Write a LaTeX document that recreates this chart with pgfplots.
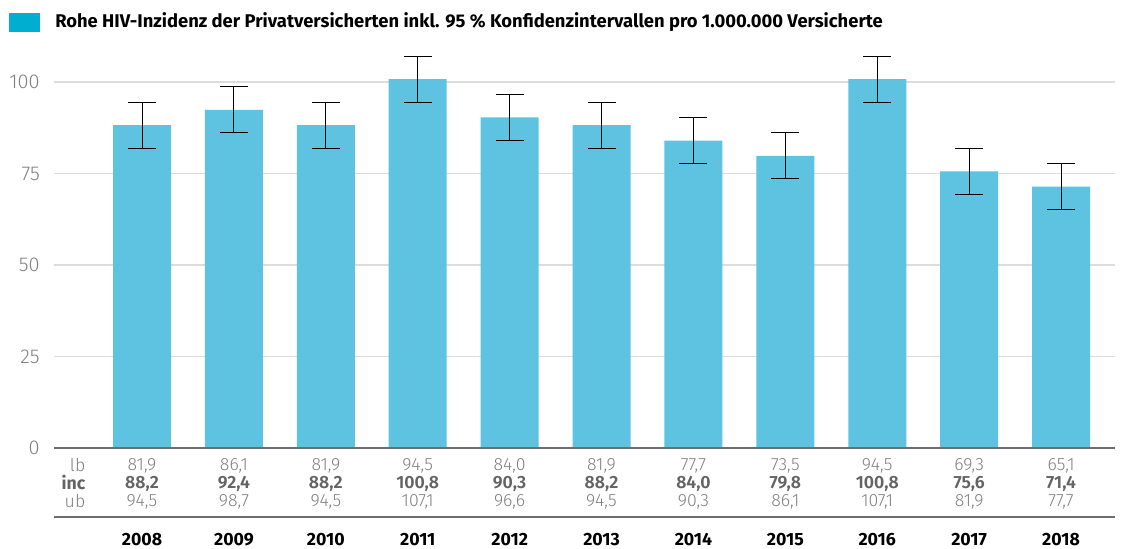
\documentclass[border=0pt]{standalone}
\usepackage{fontspec}
\setmainfont{Fira Sans}
\newfontfamily\lightfont{Fira Sans Light}
\usepackage{pgfplots}
\usepackage{pgfplotstable}
\pgfplotsset{compat=1.18}
\definecolor{barc}{RGB}{94,195,224}
\definecolor{legc}{RGB}{0,174,208}
\definecolor{tgray}{RGB}{128,128,128}
\definecolor{igray}{RGB}{100,100,100}
\definecolor{gridc}{RGB}{220,220,220}
\definecolor{zeroc}{RGB}{110,110,110}
\pgfplotstableread{
x lb inc ub
0 81.9 88.2 94.5
1 86.1 92.4 98.7
2 81.9 88.2 94.5
3 94.5 100.8 107.1
4 84.0 90.3 96.6
5 81.9 88.2 94.5
6 77.7 84.0 90.3
7 73.5 79.8 86.1
8 94.5 100.8 107.1
9 69.3 75.6 81.9
10 65.1 71.4 77.7
}\datatable
\begin{document}
\begin{tikzpicture}
\path[use as bounding box] (0,0) rectangle (846.75pt,411.75pt);
\fill[legc] (6.75pt,387.75pt) rectangle (30pt,402pt);
\node[anchor=west, font=\bfseries\fontsize{13.8}{16}\selectfont, inner sep=0pt] at (41.25pt,395.25pt)
  {Rohe HIV-Inzidenz der Privatversicherten inkl. 95 \% Konfidenzintervallen pro 1.000.000 Versicherte};
\begin{axis}[
  at={(40.5pt,75.75pt)}, anchor=south west,
  scale only axis, width=795.75pt, height=301.95pt,
  xmin=-0.958, xmax=10.587, ymin=0, ymax=110,
  axis line style={draw=none},
  major tick length=0pt,
  ymajorgrids, grid style={gridc, line width=0.8pt},
  ytick={0,25,50,75,100},
  yticklabel style={anchor=east, inner sep=0pt, xshift=-10.5pt, text=tgray, font=\lightfont\fontsize{15}{17}\selectfont},
  /pgf/number format/assume math mode=true,
  xtick={0,...,10},
  xticklabels={
    {81,9\\\textbf{\color{igray}88,2}\\94,5},
    {86,1\\\textbf{\color{igray}92,4}\\98,7},
    {81,9\\\textbf{\color{igray}88,2}\\94,5},
    {94,5\\\textbf{\color{igray}100,8}\\107,1},
    {84,0\\\textbf{\color{igray}90,3}\\96,6},
    {81,9\\\textbf{\color{igray}88,2}\\94,5},
    {77,7\\\textbf{\color{igray}84,0}\\90,3},
    {73,5\\\textbf{\color{igray}79,8}\\86,1},
    {94,5\\\textbf{\color{igray}100,8}\\107,1},
    {69,3\\\textbf{\color{igray}75,6}\\81,9},
    {65,1\\\textbf{\color{igray}71,4}\\77,7}},
  xticklabel style={align=center, text=tgray, font=\lightfont\fontsize{13.3}{13.5}\selectfont, yshift=-4.5pt},
  clip=false,
]
\addplot[ybar, bar width=43.5pt, fill=barc, draw=none,
  error bars/.cd, y dir=both, y explicit,
  error bar style={line width=0.75pt, black},
  error mark options={rotate=90, mark size=10.5pt, line width=0.75pt, black}]
  table[x=x, y=inc, y error plus expr=\thisrow{ub}-\thisrow{inc}, y error minus expr=\thisrow{inc}-\thisrow{lb}] {\datatable};
\draw[zeroc, line width=1.1pt] (rel axis cs:0,0) -- (rel axis cs:1,0);
\draw[zeroc, line width=1.1pt] ([yshift=-51.75pt]rel axis cs:0,0) -- ([yshift=-51.75pt]rel axis cs:1,0);
\node[anchor=north east, align=right, text=tgray, font=\lightfont\fontsize{13.3}{13.5}\selectfont, yshift=-4.5pt] at (axis cs:-0.566,0)
  {lb\\{\normalfont\bfseries\color{igray}inc}\\ub};
\foreach \i/\yr in {0/2008,1/2009,2/2010,3/2011,4/2012,5/2013,6/2014,7/2015,8/2016,9/2017,10/2018}{
  \edef\tmp{\noexpand\node[font=\noexpand\bfseries\noexpand\fontsize{13.3}{15}\noexpand\selectfont, yshift=-69pt] at (axis cs:\i,0) {\yr};}
  \tmp
}
\end{axis}
\end{tikzpicture}
\end{document}
